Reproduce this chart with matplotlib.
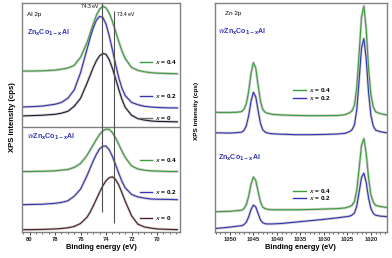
import matplotlib
matplotlib.use("Agg")
import matplotlib.pyplot as plt
from matplotlib.ticker import MultipleLocator

plt.rcParams['font.family'] = ['Liberation Sans', 'DejaVu Sans']
plt.rcParams['mathtext.default'] = 'bf'

# ---- Al 2p data (arbitrary intensity, stacked) ----
al_energy = [80.6, 80, 79, 78, 77.5, 77, 76.5, 76, 75.5, 75.25, 75, 74.75, 74.5, 74.25,
             74, 73.75, 73.5, 73.25, 73, 72.75, 72.5, 72, 71.5, 71, 70.5, 70, 69, 68.4]

# ZnxCo1-xAl (upper block)
al_top_04 = [70.3, 70.3, 70.4, 70.7, 71.1, 71.6, 72.8, 76.3, 82.6, 86.7, 91.0, 94.7, 97.4, 98.6,
             97.9, 95.6, 92.0, 87.6, 83.2, 79.1, 75.8, 71.9, 70.6, 70.0, 69.6, 69.4, 69.2, 69.1]
al_top_02 = [54.6, 54.7, 55.0, 55.8, 56.6, 58.4, 62.0, 69.6, 79.7, 84.8, 89.3, 92.6, 94.2, 93.7,
             90.8, 85.7, 79.6, 73.2, 67.4, 62.8, 59.6, 56.6, 55.6, 54.9, 54.6, 54.4, 54.2, 54.2]
al_top_00 = [50.7, 50.8, 51.0, 51.4, 51.9, 52.7, 54.9, 58.4, 64.9, 68.4, 71.9, 74.9, 77.0, 78.0,
             77.6, 75.3, 71.5, 67.0, 62.3, 57.9, 54.5, 51.0, 49.5, 48.9, 48.5, 48.3, 48.2, 48.1]

# wZnxCo1-xAl (lower block)
al_bot_04 = [26.4, 26.4, 26.5, 26.7, 27.0, 27.3, 28.2, 29.9, 33.4, 35.7, 38.1, 40.5, 42.6, 44.2,
             44.9, 44.8, 43.4, 41.1, 38.2, 35.3, 32.6, 28.9, 27.5, 27.0, 26.7, 26.6, 26.4, 26.4]
al_bot_02 = [11.9, 12.0, 12.1, 12.5, 12.9, 13.6, 15.6, 18.7, 24.5, 27.8, 31.1, 34.0, 36.3, 37.5,
             37.5, 35.9, 33.0, 29.4, 25.6, 22.1, 19.3, 16.4, 15.3, 14.8, 14.4, 14.3, 14.2, 14.1]
al_bot_00 = [1.0, 1.0, 1.1, 1.3, 1.5, 1.8, 2.4, 3.7, 6.4, 8.6, 11.4, 14.4, 17.4, 20.2,
             22.4, 23.7, 24.1, 22.9, 20.5, 17.1, 13.5, 7.1, 3.4, 2.2, 1.7, 1.3, 1.1, 1.0]

# ---- Zn 2p data ----
zn_energy = [1053.2, 1052, 1050, 1048.5, 1047.5, 1047, 1046.5, 1046, 1045.5, 1045, 1044.5, 1044,
             1043.5, 1043, 1042.5, 1042, 1041, 1039, 1036, 1033, 1030, 1027, 1025.5, 1024.5,
             1024, 1023.5, 1023, 1022.5, 1022, 1021.5, 1021, 1020.5, 1020, 1019.5, 1019, 1018, 1016.6]

zn_top_04 = [52.3, 52.2, 52.2, 52.3, 52.6, 53.6, 56.0, 61.4, 69.2, 74.0, 71.7, 64.2,
             57.2, 53.5, 52.3, 51.9, 51.4, 51.1, 50.9, 50.8, 50.8, 50.9, 51.2, 52.1,
             53.0, 55.4, 63.2, 78.2, 93.9, 98.7, 88.5, 71.5, 59.9, 54.6, 52.5, 51.7, 51.1]
zn_top_02 = [43.3, 43.3, 43.2, 43.4, 43.6, 44.4, 46.4, 50.8, 57.1, 61.0, 59.1, 53.2,
             47.5, 44.6, 43.7, 43.2, 42.9, 42.7, 42.5, 42.5, 42.6, 42.8, 43.1, 43.9,
             44.7, 46.8, 53.5, 66.7, 80.4, 84.5, 75.6, 60.9, 50.9, 46.3, 44.5, 43.8, 43.3]
zn_bot_04 = [8.8, 8.9, 9.0, 9.3, 9.5, 10.2, 11.9, 15.6, 20.8, 24.0, 22.6, 17.8,
             13.2, 10.8, 10.2, 9.9, 9.7, 9.7, 9.7, 9.8, 10.0, 10.2, 10.5, 11.1,
             11.7, 13.3, 18.3, 27.8, 37.8, 40.8, 34.3, 23.6, 16.2, 13.0, 11.6, 11.1, 10.7]
zn_bot_02 = [1.5, 1.7, 2.1, 2.5, 2.7, 3.2, 4.3, 6.6, 9.8, 11.7, 11.0, 8.1,
             5.3, 4.0, 3.6, 3.5, 3.5, 3.7, 4.3, 4.9, 5.5, 6.2, 6.6, 6.9,
             7.4, 8.3, 11.4, 17.5, 23.8, 25.7, 21.6, 14.8, 10.2, 8.1, 7.3, 6.9, 6.7]

green = '#3c9e3c'
blue = '#3434b4'
dark = '#1e1e30'
maroon = '#4a2020'
grey_data = '#cdcdcd'
spine_c = '#808080'

fig = plt.figure(figsize=(3.92, 2.58), dpi=100)
ax1 = fig.add_axes([0.056, 0.101, 0.403, 0.887])
ax2 = fig.add_axes([0.548, 0.101, 0.439, 0.887])

def curve(ax, x, y, color):
    ax.plot(x, y, color=grey_data, lw=1.9, solid_capstyle='round', zorder=1)
    ax.plot(x, y, color=color, lw=0.8, zorder=2)

def key(ax, x0, y0, color, label):
    ax.plot([x0, x0 + 0.075], [y0, y0], color=color, lw=1.0, transform=ax.transAxes)
    ax.text(x0 + 0.095, y0, r"$\it{x}$ = " + label, transform=ax.transAxes,
            fontsize=4.6, fontweight='bold', va='center', ha='left')

# ---- left panel ----
curve(ax1, al_energy, al_top_04, green)
curve(ax1, al_energy, al_top_02, blue)
curve(ax1, al_energy, al_top_00, dark)
curve(ax1, al_energy, al_bot_04, green)
curve(ax1, al_energy, al_bot_02, blue)
curve(ax1, al_energy, al_bot_00, maroon)

ax1.axhline(46.0, color=spine_c, lw=1.0)
ax1.vlines(74.3, 8.5, 100, color='#505050', lw=0.8, zorder=3)
ax1.vlines(73.4, 4.0, 96.5, color='#505050', lw=0.8, zorder=3)
ax1.text(74.6, 98.6, "74.3 eV", fontsize=3.6, ha='right', va='center')
ax1.text(73.15, 95.0, "73.4 eV", fontsize=3.6, ha='left', va='center')

ax1.text(0.035, 0.948, "Al 2p", transform=ax1.transAxes, fontsize=4.6, va='center')
ax1.text(0.035, 0.869, "Zn$_x$Co$_{1-x}$Al", transform=ax1.transAxes, fontsize=5.0,
         fontweight='bold', color=blue, va='center')
ax1.text(0.035, 0.415, "$\\it{w}$Zn$_x$Co$_{1-x}$Al", transform=ax1.transAxes, fontsize=5.0,
         fontweight='bold', color=blue, va='center')

key(ax1, 0.747, 0.742, green, "0.4")
key(ax1, 0.747, 0.594, blue, "0.2")
key(ax1, 0.747, 0.498, '#707070', "0")
key(ax1, 0.747, 0.314, green, "0.4")
key(ax1, 0.747, 0.175, blue, "0.2")
key(ax1, 0.747, 0.061, maroon, "0")

ax1.set_xlim(80.6, 68.2)
ax1.set_ylim(0, 100)
ax1.xaxis.set_major_locator(MultipleLocator(2))
ax1.xaxis.set_minor_locator(MultipleLocator(0.5))

# ---- right panel ----
curve(ax2, zn_energy, zn_top_04, green)
curve(ax2, zn_energy, zn_top_02, blue)
curve(ax2, zn_energy, zn_bot_04, green)
curve(ax2, zn_energy, zn_bot_02, blue)

ax2.text(0.058, 0.956, "Zn 2p", transform=ax2.transAxes, fontsize=4.6, va='center')
ax2.text(0.017, 0.873, "$\\it{w}$Zn$_x$Co$_{1-x}$Al", transform=ax2.transAxes, fontsize=5.0,
         fontweight='bold', color=blue, va='center')
ax2.text(0.017, 0.323, "Zn$_x$Co$_{1-x}$Al", transform=ax2.transAxes, fontsize=5.0,
         fontweight='bold', color=blue, va='center')

key(ax2, 0.453, 0.620, green, "0.4")
key(ax2, 0.453, 0.585, blue, "0.2")
key(ax2, 0.453, 0.179, green, "0.4")
key(ax2, 0.453, 0.148, blue, "0.2")

ax2.set_xlim(1053.2, 1016.6)
ax2.set_ylim(0, 100)
ax2.xaxis.set_major_locator(MultipleLocator(5))
ax2.xaxis.set_minor_locator(MultipleLocator(1))

for ax in (ax1, ax2):
    ax.set_yticks([])
    for s in ax.spines.values():
        s.set_color(spine_c)
        s.set_linewidth(1.0)
    ax.tick_params(axis='x', which='major', direction='out', length=2.5, width=0.6,
                   labelsize=4.2, pad=1.5, colors='#222222')
    ax.tick_params(axis='x', which='minor', direction='out', length=1.5, width=0.5,
                   colors='#222222')
    for lab in ax.get_xticklabels():
        lab.set_fontweight('bold')
    ax.set_xlabel("Binding energy (eV)", fontsize=5.4, fontweight='bold', labelpad=1)

ax1.set_ylabel("XPS intensity (cps)", fontsize=5.6, fontweight='bold', labelpad=4)
ax2.set_ylabel("XPS intensity (cps)", fontsize=4.6, fontweight='bold', labelpad=9)
ax2.yaxis.set_label_coords(-0.09, 0.53)

fig.savefig("out.png", dpi=100)
